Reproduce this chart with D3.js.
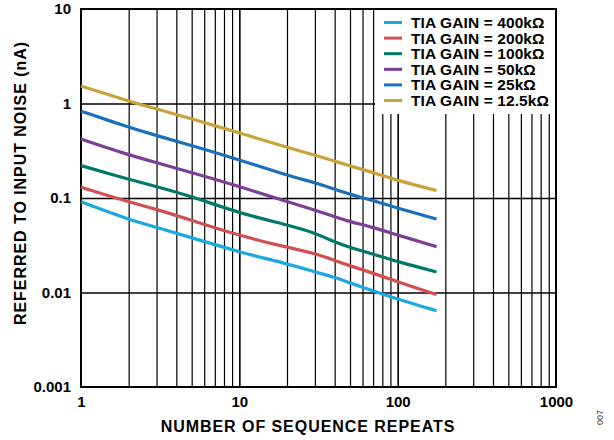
<!DOCTYPE html>
<html><head><meta charset="utf-8">
<script src="https://cdn.jsdelivr.net/npm/d3@7"></script>
<style>body{margin:0;background:#fff;}svg{display:block;font-family:"Liberation Sans",Arial,sans-serif;font-weight:bold;}</style>
</head><body>
<script>
const repeats = [1, 2, 3, 5, 10, 20, 30, 40, 50, 70, 100, 176];
const gain400k = [0.091, 0.059, 0.049, 0.038, 0.0267, 0.0202, 0.0165, 0.0145, 0.0126, 0.0104, 0.0085, 0.0064];
const gain200k = [0.13, 0.091, 0.076, 0.058, 0.040, 0.030, 0.026, 0.0218, 0.0192, 0.016, 0.013, 0.0095];
const gain100k = [0.22, 0.158, 0.132, 0.104, 0.069, 0.052, 0.043, 0.034, 0.030, 0.0255, 0.0212, 0.0165];
const gain50k = [0.42, 0.285, 0.237, 0.186, 0.133, 0.091, 0.075, 0.063, 0.056, 0.049, 0.0405, 0.0306];
const gain25k = [0.83, 0.56, 0.457, 0.36, 0.254, 0.173, 0.146, 0.124, 0.109, 0.094, 0.078, 0.06];
const gain12k5 = [1.53, 1.06, 0.875, 0.69, 0.49, 0.342, 0.285, 0.245, 0.219, 0.186, 0.153, 0.12];
const seriesNames = ["TIA GAIN = 400kΩ", "TIA GAIN = 200kΩ", "TIA GAIN = 100kΩ", "TIA GAIN = 50kΩ", "TIA GAIN = 25kΩ", "TIA GAIN = 12.5kΩ"];
const seriesValues = [gain400k, gain200k, gain100k, gain50k, gain25k, gain12k5];
const colors = ["#1ba8df", "#d0504f", "#00786a", "#7c3e96", "#1a70b9", "#c9a23a"];
const xTicks = [1, 10, 100, 1000];
const yTicks = [0.001, 0.01, 0.1, 1, 10];
const xTitle = "NUMBER OF SEQUENCE REPEATS";
const yTitle = "REFERRED TO INPUT NOISE (nA)";

const W = 614, H = 440;
const m = {l: 81, r: 556, t: 9, b: 387};
const svg = d3.select("body").append("svg").attr("width", W).attr("height", H);
const x = d3.scaleLog().domain([1, 1000]).range([m.l, m.r]);
const y = d3.scaleLog().domain([0.001, 10]).range([m.b, m.t]);

const xGrid = [];
for (let d = 1; d < 1000; d *= 10) for (let k = 1; k <= 9; k++) xGrid.push(d * k);

const g = svg.append("g");
g.append("g").call(d3.axisBottom(x).tickValues(xGrid.filter(v => v > 1)).tickSize(-(m.b - m.t)).tickFormat(""))
  .attr("transform", `translate(0,${m.b})`)
  .call(s => { s.select(".domain").remove(); s.selectAll("line").attr("stroke", "#000").attr("stroke-width", d => xTicks.includes(d) ? 1.6 : 1.2); });
g.append("g").call(d3.axisLeft(y).tickValues(yTicks.filter(v => v > 0.001 && v < 10)).tickSize(-(m.r - m.l)).tickFormat(""))
  .attr("transform", `translate(${m.l},0)`)
  .call(s => { s.select(".domain").remove(); s.selectAll("line").attr("stroke", "#000").attr("stroke-width", 1.6); });

// legend background covers grid
svg.append("rect").attr("x", 375).attr("y", m.t + 1).attr("width", m.r - 375 - 1).attr("height", 104).attr("fill", "#fff");

// frame
svg.append("rect").attr("x", m.l).attr("y", m.t).attr("width", m.r - m.l).attr("height", m.b - m.t)
  .attr("fill", "none").attr("stroke", "#000").attr("stroke-width", 2);

// series
const line = d3.line().x((d, i) => x(repeats[i])).y(d => y(d)).curve(d3.curveBasis);
seriesValues.forEach((vals, i) => {
  svg.append("path").attr("d", line(vals)).attr("fill", "none").attr("stroke", colors[i]).attr("stroke-width", 3.2);
});

const fontFam = "Liberation Sans, Arial, sans-serif";
const xa = svg.append("g").attr("transform", `translate(0,${m.b})`).call(d3.axisBottom(x).tickValues(xTicks).tickSize(0).tickPadding(9).tickFormat(d3.format("d")));
xa.select(".domain").remove();
xa.selectAll("text").attr("font-size", 15).attr("font-weight", "bold").attr("font-family", fontFam).attr("fill", "#000");
const ya = svg.append("g").attr("transform", `translate(${m.l},0)`).call(d3.axisLeft(y).tickValues(yTicks).tickSize(0).tickPadding(10).tickFormat(d => d >= 1 ? d3.format("d")(d) : d3.format(".3~f")(d)));
ya.select(".domain").remove();
ya.selectAll("text").attr("font-size", 15).attr("font-weight", "bold").attr("font-family", fontFam).attr("fill", "#000");

svg.append("text").attr("x", 308).attr("y", 432).attr("text-anchor", "middle").attr("font-size", 16).attr("letter-spacing", 0.95).text(xTitle);
svg.append("text").attr("transform", `translate(26,183) rotate(-90)`).attr("text-anchor", "middle").attr("font-size", 16).attr("letter-spacing", 0.95).text(yTitle);
svg.append("text").attr("transform", "translate(603,425) rotate(-90)").attr("font-size", 9).attr("font-weight", "normal").attr("fill", "#444").text("007");

const lg = svg.append("g");
seriesNames.forEach((n, i) => {
  const yy = 22.5 + i * 15.6;
  lg.append("line").attr("x1", 384).attr("x2", 402).attr("y1", yy).attr("y2", yy).attr("stroke", colors[i]).attr("stroke-width", 3);
  lg.append("text").attr("x", 411).attr("y", yy + 5.5).attr("font-size", 15.5).attr("letter-spacing", 0.1).text(n);
});
</script>
</body></html>
